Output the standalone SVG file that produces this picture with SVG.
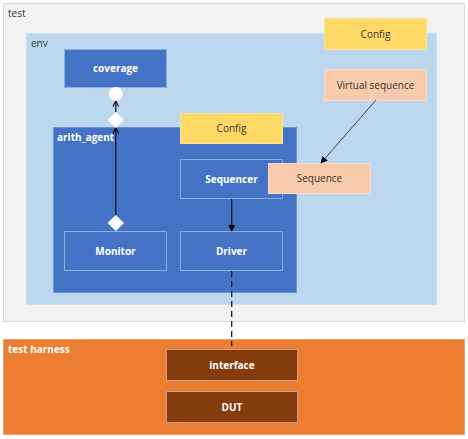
<svg xmlns="http://www.w3.org/2000/svg" width="468" height="439" viewBox="0 0 468 439">
<defs>
<style>
text{font-family:"Open Sans","Noto Sans","Liberation Sans",sans-serif;font-size:10px}
.lbl{fill:#333333}
.wb{fill:#ffffff;font-weight:bold;text-anchor:middle}
.dk{fill:#333333;text-anchor:middle}
.blue{fill:#4472c4;stroke:#8faadc;stroke-width:1}
.yel{fill:#ffd966;stroke:#f2e3a8;stroke-width:1}
.pch{fill:#f8cbad;stroke:#f8dccb;stroke-width:1}
.brn{fill:#843c0c;stroke:#c9a08a;stroke-width:1}
.conn{fill:none;stroke:#1a1a2e;stroke-width:1.3}
</style>
<marker id="filled" viewBox="0 0 10 10" refX="9" refY="5" markerWidth="7" markerHeight="7" orient="auto" markerUnits="userSpaceOnUse">
<path d="M0,0 L10,5 L0,10 z" fill="#000000"/>
</marker>
<marker id="open" viewBox="0 0 10 10" refX="9" refY="5" markerWidth="7" markerHeight="7" orient="auto" markerUnits="userSpaceOnUse">
<path d="M1,1 L9,5 L1,9" fill="none" stroke="#000000" stroke-width="1.6"/>
</marker>
</defs>
<rect x="0" y="0" width="468" height="439" fill="#ffffff"/>
<g id="test">
<rect x="3.5" y="3.5" width="461" height="318" fill="#f2f2f2" stroke="#d9d9d9"/>
<text class="lbl" x="8" y="17">test</text>
</g>
<g id="env">
<rect x="26.5" y="33.5" width="410" height="271" fill="#bdd7ee" stroke="#d0dff0"/>
<text class="lbl" x="31" y="47">env</text>
</g>
<g id="config-env">
<rect class="yel" x="324.5" y="18.5" width="102" height="31"/>
<text class="dk" x="375.5" y="37.5">Config</text>
</g>
<g id="virtual-sequence">
<rect class="pch" x="324.5" y="69.5" width="102" height="31"/>
<text class="dk" x="375.5" y="88.5">Virtual sequence</text>
</g>
<g id="coverage">
<rect class="blue" x="64.5" y="49.5" width="102" height="38"/>
<text class="wb" x="115.5" y="72">coverage</text>
</g>
<g id="arith_agent">
<rect x="53.5" y="127.5" width="243" height="165" fill="#4472c4" stroke="#6a8fd0"/>
<text x="57" y="141" fill="#ffffff" font-weight="bold">arith_agent</text>
</g>
<g id="config-agent">
<rect class="yel" x="180.5" y="113.5" width="102" height="30"/>
<text class="dk" x="231.5" y="132">Config</text>
</g>
<g id="sequencer">
<rect class="blue" x="180.5" y="159.5" width="102" height="39"/>
<text class="wb" x="231.5" y="182.5">Sequencer</text>
</g>
<g id="sequence">
<rect class="pch" x="268.5" y="163.5" width="102" height="30"/>
<text class="dk" x="319.5" y="182">Sequence</text>
</g>
<g id="monitor">
<rect class="blue" x="64.5" y="231.5" width="102" height="39"/>
<text class="wb" x="115.5" y="254.5">Monitor</text>
</g>
<g id="driver">
<rect class="blue" x="180.5" y="231.5" width="102" height="39"/>
<text class="wb" x="231.5" y="254.5">Driver</text>
</g>
<g id="test-harness">
<rect x="3.5" y="339.5" width="461" height="95" fill="#ed7d31" stroke="#f0a070"/>
<text x="8" y="353" fill="#ffffff" font-weight="bold">test harness</text>
</g>
<g id="interface">
<rect class="brn" x="166.5" y="349.5" width="131" height="31"/>
<text class="wb" x="232" y="368.5">interface</text>
</g>
<g id="dut">
<rect class="brn" x="166.5" y="391.5" width="131" height="31"/>
<text class="wb" x="232" y="410.5">DUT</text>
</g>
<g id="connectors">
<line class="conn" x1="115.8" y1="215" x2="115.8" y2="128" marker-end="url(#open)"/>
<line class="conn" x1="115.8" y1="112" x2="115.8" y2="101" marker-end="url(#open)"/>
<line class="conn" x1="231.7" y1="199" x2="231.7" y2="231" marker-end="url(#filled)"/>
<line x1="376" y1="100" x2="321" y2="163" stroke="#404040" stroke-width="1" marker-end="url(#filled)"/>
<line x1="231.7" y1="271" x2="231.7" y2="346" stroke="#1a1a1a" stroke-width="1.3" stroke-dasharray="6,4"/>
<circle cx="115.8" cy="94" r="7" fill="#ffffff"/>
<polygon points="115.8,112 124,120 115.8,128 107.6,120" fill="#ffffff"/>
<polygon points="115.8,215 124,223 115.8,231 107.6,223" fill="#ffffff"/>
</g>
</svg>
